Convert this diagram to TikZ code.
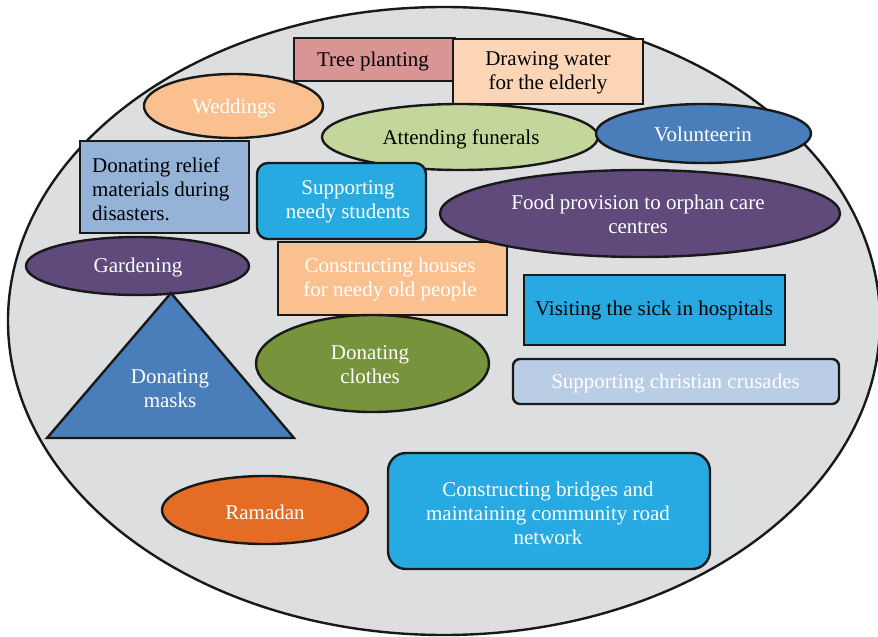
\documentclass[tikz,border=0pt]{standalone}
\usepackage{fontspec}
\setmainfont{Liberation Serif}
\usetikzlibrary{shapes.geometric}

\definecolor{bggray}{HTML}{DDDEE0}
\definecolor{rose}{HTML}{D99594}
\definecolor{peachlight}{HTML}{FBD5B5}
\definecolor{peach}{HTML}{FAC090}
\definecolor{lightgreen}{HTML}{C3D69B}
\definecolor{steelblue}{HTML}{4A7EBB}
\definecolor{paleblue}{HTML}{95B3D7}
\definecolor{cyanblue}{HTML}{27AAE1}
\definecolor{plum}{HTML}{604A7B}
\definecolor{mistblue}{HTML}{B9CDE5}
\definecolor{olive}{HTML}{77933C}
\definecolor{burnt}{HTML}{E46C25}

\tikzset{
  outline/.style={draw=black!90, line width=2.4pt, line join=miter},
  lbl/.style={font=\fontsize{21}{24}\selectfont, align=center, inner sep=0pt, yshift=-2pt},
  lightlbl/.style={lbl, text=white},
  darklbl/.style={lbl, text=black},
}

\begin{document}
\begin{tikzpicture}[x=1pt, y=-1pt]
  \clip (0,0) rectangle (878,637);

  % outer region
  \fill[bggray] (444,321) ellipse [x radius=436pt, y radius=314pt];
  \draw[outline] (444,321) ellipse [x radius=436pt, y radius=314pt];

  % top row
  \draw[outline, fill=rose] (294,38) rectangle (455,81);
  \node[darklbl] (tree) at (373,59.5) {Tree planting};
  \draw[outline, fill=peachlight] (453,39) rectangle (643,104);
  \node[darklbl] (water) at (548,71) {Drawing water\\for the elderly};

  \draw[outline, fill=peach] (233.5,106) ellipse [x radius=89.5pt, y radius=32pt];
  \node[lightlbl] (wed) at (234,106) {Weddings};

  \draw[outline, fill=lightgreen] (460,137) ellipse [x radius=138pt, y radius=33pt];
  \node[darklbl] (fun) at (461,137) {Attending funerals};

  \draw[outline, fill=steelblue] (703.5,133.5) ellipse [x radius=107.5pt, y radius=29.5pt];
  \node[lightlbl] (vol) at (703,132) {Volunteerin};

  % second row
  \draw[outline, fill=paleblue] (80,141) rectangle (249,233);
  \node[darklbl, anchor=west, align=left] (relief) at (92,187)
    {Donating relief\\materials during\\disasters.};

  \draw[outline, fill=cyanblue, rounded corners=11pt] (257,163) rectangle (426,239);
  \node[lightlbl] (stud) at (348,200) {Supporting\\needy students};

  \draw[outline, fill=peach] (278,242) rectangle (507,315);
  \node[lightlbl] (houses) at (390,277.5) {Constructing houses\\for needy old people};

  \draw[outline, fill=plum] (640,213.5) ellipse [x radius=200pt, y radius=43.5pt];
  \node[lightlbl] (food) at (638,212) {Food provision to orphan care\\centres};

  \draw[outline, fill=plum] (137.5,266) ellipse [x radius=111.5pt, y radius=29pt];
  \node[lightlbl] (garden) at (138,265) {Gardening};

  % middle
  \draw[outline, fill=cyanblue] (524,275) rectangle (785,345);
  \node[darklbl] (sick) at (654,308) {Visiting the sick in hospitals};

  \draw[outline, fill=mistblue, rounded corners=7pt] (513,359) rectangle (839,404);
  \node[lightlbl] (crus) at (675.5,381) {Supporting christian crusades};

  \draw[outline, fill=steelblue] (171,293) -- (294,438) -- (47,438) -- cycle;
  \node[lightlbl] (masks) at (170,387) {Donating\\masks};

  \draw[outline, fill=olive] (372.5,363.5) ellipse [x radius=116.5pt, y radius=48.5pt];
  \node[lightlbl] (clothes) at (370,363) {Donating\\clothes};

  % bottom row
  \draw[outline, fill=burnt] (265,510) ellipse [x radius=103pt, y radius=34pt];
  \node[lightlbl] (ram) at (265,510) {Ramadan};

  \draw[outline, fill=cyanblue, rounded corners=18pt] (388,453) rectangle (710,569);
  \node[lightlbl] (bridge) at (548,511)
    {Constructing bridges and\\maintaining community road\\network};
\end{tikzpicture}
\end{document}
